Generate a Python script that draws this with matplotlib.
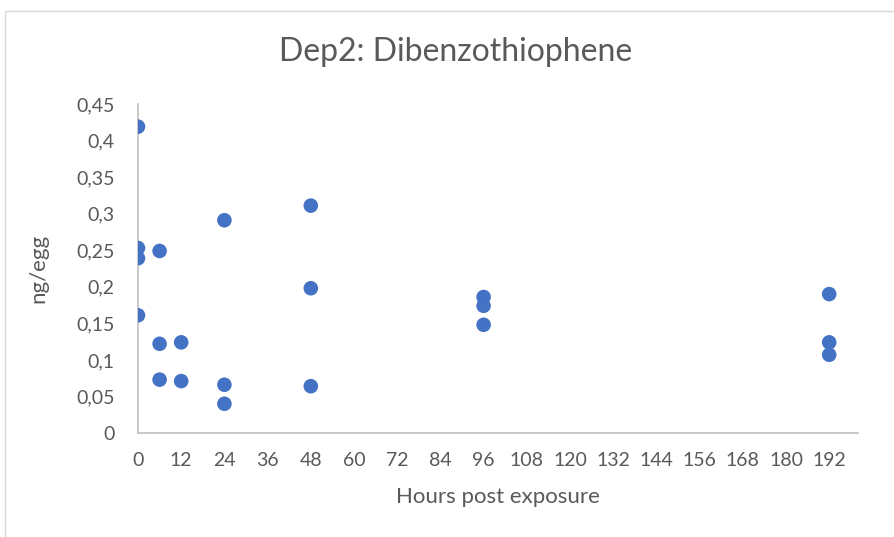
import matplotlib.pyplot as plt
import matplotlib.patches as mpatches
from matplotlib.ticker import FuncFormatter

# ── Data ─────────────────────────────────────────────────────────────────────
hours = [0, 0, 0, 0,
         6, 6, 6,
         12, 12,
         24, 24, 24,
         48, 48, 48,
         96, 96, 96,
         192, 192, 192]
ng_per_egg = [0.419, 0.253, 0.239, 0.161,
              0.249, 0.122, 0.073,
              0.124, 0.071,
              0.291, 0.066, 0.040,
              0.311, 0.198, 0.064,
              0.186, 0.174, 0.148,
              0.190, 0.124, 0.107]
x_ticks = list(range(0, 193, 12))
y_ticks = [0, 0.05, 0.1, 0.15, 0.2, 0.25, 0.3, 0.35, 0.4, 0.45]

# ── Style ────────────────────────────────────────────────────────────────────
BLUE  = "#4472C4"
TEXT  = "#595959"
AXIS  = "#BFBFBF"
FRAME = "#D9D9D9"
plt.rcParams["font.family"] = ["Lato", "DejaVu Sans"]

def fmt_comma(val, _=None):
    """Excel-style decimal comma: 0,45"""
    s = f"{val:.2f}".rstrip("0").rstrip(".")
    return s.replace(".", ",")

fig = plt.figure(figsize=(8.94, 5.37), dpi=100)
W, H = 894, 537
ax = fig.add_axes([138 / W, 1 - 433 / H, (858 - 138) / W, (433 - 104) / H])

# light outer chart frame (only left and top edges visible in the crop)
fig.add_artist(mpatches.Rectangle((5 / W, -0.1), 1.2, 1 - 11 / H + 0.1,
                                  transform=fig.transFigure, fill=False,
                                  edgecolor=FRAME, linewidth=1.0))

ax.scatter(hours, ng_per_egg, s=110, color=BLUE, edgecolors="none", zorder=3)

ax.set_xlim(0, 200)
ax.set_ylim(0, 0.45)
ax.set_xticks(x_ticks)
ax.set_yticks(y_ticks)
ax.yaxis.set_major_formatter(FuncFormatter(fmt_comma))

for side in ["top", "right"]:
    ax.spines[side].set_visible(False)
for side in ["left", "bottom"]:
    ax.spines[side].set_color(AXIS)
    ax.spines[side].set_linewidth(1.2)
ax.tick_params(length=0, labelsize=14, colors=TEXT)
ax.tick_params(axis="x", pad=14)
ax.tick_params(axis="y", pad=17)

fig.text(456 / W, 1 - 52 / H, "Dep2: Dibenzothiophene", fontsize=23,
         color=TEXT, ha="center", va="center")
fig.text(498 / W, 1 - 497 / H, "Hours post exposure", fontsize=16,
         color=TEXT, ha="center", va="center")
fig.text(38 / W, 1 - 268 / H, "ng/egg", fontsize=16, color=TEXT,
         ha="center", va="center", rotation=90)

plt.savefig("out.png", dpi=100)
plt.close()
